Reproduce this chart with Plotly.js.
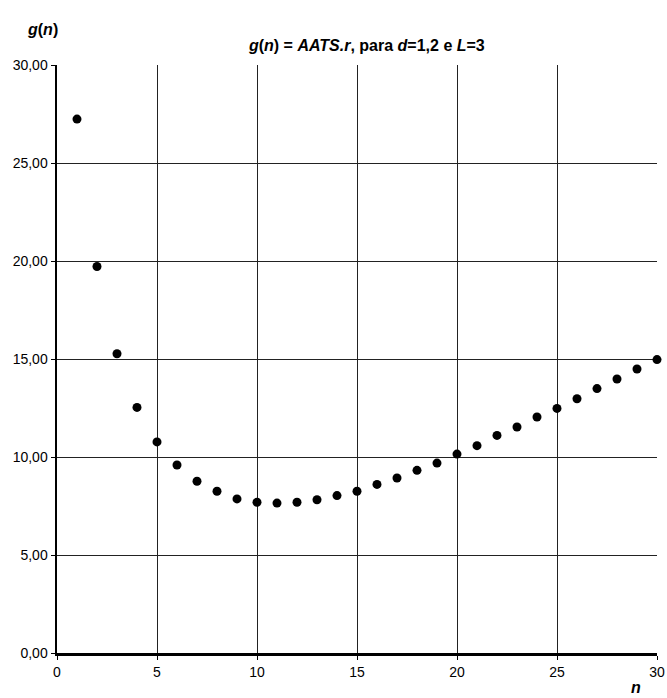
<!DOCTYPE html>
<html>
<head>
<meta charset="utf-8">
<script src="https://cdn.plot.ly/plotly-3.0.1.min.js"></script>
<style>html,body{margin:0;padding:0;background:#fff;}#chart{width:667px;height:698px;}</style>
</head>
<body>
<div id="chart"></div>
<script>
const nValues = [1,2,3,4,5,6,7,8,9,10,11,12,13,14,15,16,17,18,19,20,21,22,23,24,25,26,27,28,29,30];
const gValues = [27.24,19.72,15.27,12.53,10.77,9.59,8.76,8.25,7.86,7.69,7.65,7.69,7.82,8.03,8.25,8.60,8.93,9.32,9.69,10.15,10.58,11.10,11.53,12.04,12.48,12.97,13.49,13.98,14.49,14.97];
const xTicks = [0,5,10,15,20,25,30];
const yTicks = [0,5,10,15,20,25,30];

const font = "Liberation Sans, Arial, sans-serif";

const trace = {
  x: nValues, y: gValues, type: 'scatter', mode: 'markers',
  marker: {color: '#000', size: 9},
  cliponaxis: false, hoverinfo: 'skip'
};

const layout = {
  width: 667, height: 698,
  margin: {l: 57, r: 10, t: 65, b: 45, pad: 0},
  paper_bgcolor: '#fff', plot_bgcolor: '#fff',
  separators: ',.',
  showlegend: false,
  font: {family: font, color: '#000', size: 14},
  title: {
    text: '<b><i>g</i>(<i>n</i>) = <i>AATS.r</i>, para <i>d</i>=1,2 e <i>L</i>=3</b>',
    font: {family: font, size: 16, color: '#000'},
    x: 0.55, xanchor: 'center', y: 0.935, yanchor: 'middle'
  },
  xaxis: {
    range: [0, 30], tickvals: xTicks, ticktext: xTicks.map(String),
    showgrid: true, gridcolor: '#222', gridwidth: 1,
    showline: true, linecolor: '#000', linewidth: 3,
    ticks: 'outside', ticklen: 4, tickcolor: '#000', tickwidth: 1,
    zeroline: false, fixedrange: true,
    tickfont: {family: font, size: 14, color: '#000'}
  },
  yaxis: {
    range: [0, 30], tickvals: yTicks, tickformat: '.2f',
    showgrid: true, gridcolor: '#222', gridwidth: 1,
    showline: true, linecolor: '#000', linewidth: 2.5,
    ticks: 'outside', ticklen: 4, tickcolor: '#000', tickwidth: 1,
    zeroline: false, fixedrange: true,
    tickfont: {family: font, size: 14, color: '#000'}
  },
  annotations: [
    {text: '<b><i>g</i>(<i>n</i>)</b>', xref: 'paper', yref: 'paper',
     x: -0.025, y: 1.06, xanchor: 'center', yanchor: 'middle', showarrow: false,
     font: {family: font, size: 16, color: '#000'}},
    {text: '<b><i>n</i></b>', xref: 'paper', yref: 'paper',
     x: 0.965, y: -0.0765, xanchor: 'center', yanchor: 'bottom', showarrow: false,
     font: {family: font, size: 16, color: '#000'}}
  ]
};

Plotly.newPlot('chart', [trace], layout, {displayModeBar: false, staticPlot: true});
</script>
</body>
</html>
